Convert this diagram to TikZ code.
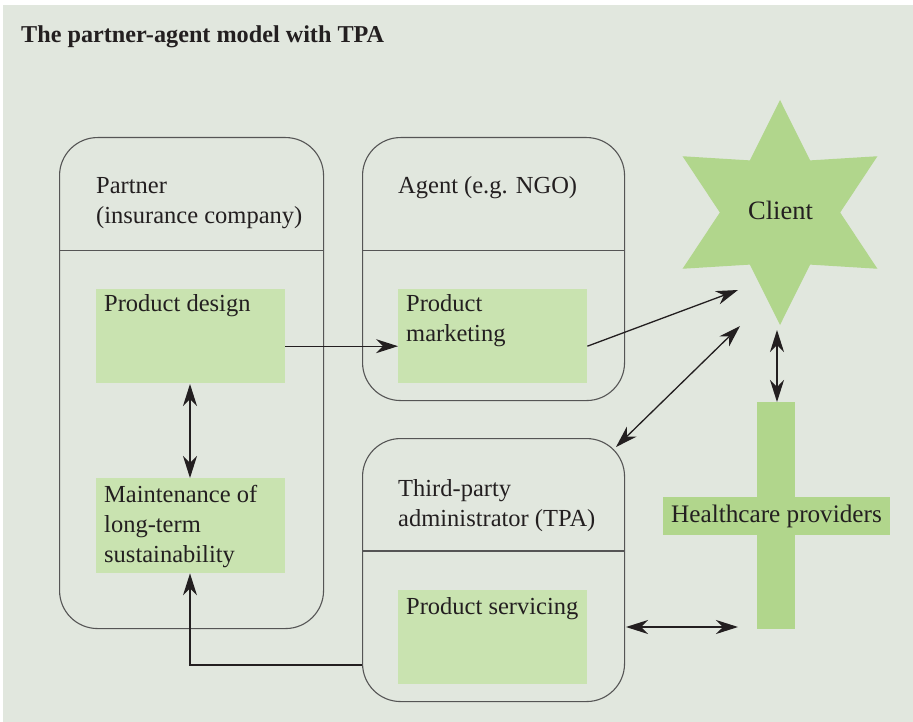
\documentclass[tikz,border=0pt]{standalone}
\usepackage{fontspec}
\setmainfont{Liberation Serif}
\usetikzlibrary{shapes.geometric,arrows.meta}
\definecolor{bg}{HTML}{E1E7DE}
\definecolor{lgreen}{HTML}{C9E3B0}
\definecolor{dgreen}{HTML}{B1D68C}
\definecolor{ink}{HTML}{231F20}
\definecolor{edgegray}{HTML}{555555}
\begin{document}
\begin{tikzpicture}[x=1pt,y=-1pt,
  txt/.style={font=\fontsize{24.5}{30}\selectfont, text=ink, inner sep=0pt, anchor=base west, align=left},
  rbox/.style={draw=edgegray, line width=1.1pt, rounded corners=38pt, anchor=north west, inner sep=0pt},
  gbox/.style={fill=lgreen, anchor=north west, inner sep=0pt},
  conn/.style={draw=ink, line width=1.3pt, -{Stealth[length=22pt,width=14pt,inset=7pt]}},
  dconn/.style={draw=ink, line width=1.3pt, {Stealth[length=22pt,width=14pt,inset=7pt]}-{Stealth[length=22pt,width=14pt,inset=7pt]}}
]
\useasboundingbox (0,0) rectangle (913,722);
\fill[bg] (3,5) rectangle (913,722);

\node[txt, font=\fontsize{24.2}{28}\selectfont\bfseries] (title) at (21,43) {The partner-agent model with TPA};

% rounded boxes
\node[rbox, minimum width=264pt, minimum height=491pt] (partner) at (59,137) {};
\node[rbox, minimum width=262pt, minimum height=263pt] (agent) at (362,137) {};
\node[rbox, minimum width=262pt, minimum height=263pt] (tpa) at (362,438) {};
\draw[edgegray, line width=1.1pt] (partner.west |- 0,250.5) coordinate (pdl) -- (partner.east |- 0,250.5) coordinate (pdr);
\draw[edgegray, line width=1.1pt] (agent.west |- 0,250.5) coordinate (adl) -- (agent.east |- 0,250.5) coordinate (adr);
\draw[edgegray, line width=1.1pt] (tpa.west |- 0,551) coordinate (tdl) -- (tpa.east |- 0,551) coordinate (tdr);

% multi-line nodes: base anchor is the baseline of the last line
\node[txt] (partnert) at (96,224) {Partner\\(insurance company)};
\node[txt] (agentt) at (398,194) {Agent (e.g. NGO)};
\node[txt] (tpat) at (398,526) {Third-party\\administrator (TPA)};

% green boxes
\node[gbox, minimum width=189pt, minimum height=94pt] (pd) at (96,289) {};
\node[gbox, minimum width=189pt, minimum height=94pt] (pm) at (398,289) {};
\node[gbox, minimum width=189pt, minimum height=95pt] (mt) at (96,478) {};
\node[gbox, minimum width=189pt, minimum height=94pt] (ps) at (398,590) {};
\node[txt] (pdt) at (104,311) {Product design};
\node[txt] (pmt) at (406,341) {Product\\marketing};
\node[txt] (mtt) at (104,562) {Maintenance of\\long-term\\sustainability};
\node[txt] (pst) at (406,614) {Product servicing};

% client star
\node[star, star points=6, star point ratio=1.87, minimum size=225pt, inner sep=0pt, fill=dgreen] (client) at (780,212.5) {};
\node[txt, font=\fontsize{26.5}{30}\selectfont, anchor=base] (clientt) at (780.5,219.5) {Client};

% healthcare cross
\fill[dgreen] (757,402) rectangle (795,629);
\fill[dgreen] (663,497) rectangle (890,535);
\node[txt, font=\fontsize{25.2}{30}\selectfont, anchor=base] (hct) at (776.5,522.5) {Healthcare providers};

% connectors
\coordinate (c1) at (738,290);
\coordinate (c2) at (740,326);
\coordinate (c3) at (616,447);
\coordinate (c4) at (777,330);
\coordinate (c5) at (777,402);
\coordinate (c6) at (626,627);
\coordinate (c7) at (738,627);
\coordinate (d1) at (190,384);
\coordinate (d2) at (190,478);
\draw[conn] ([yshift=-10pt]pd.east) -- ([yshift=-10pt]pm.west);
\draw[conn] ([yshift=-10pt]pm.east) -- (c1);
\draw[dconn] (c2) -- (c3);
\draw[dconn] (c4) -- (c5);
\draw[dconn] (c6) -- (c7);
\draw[dconn] (d1) -- (d2);
\draw[conn] (tpa.west |- 0,665) -- (190,665) -- (mt.south -| 190,0);
\end{tikzpicture}
\end{document}
